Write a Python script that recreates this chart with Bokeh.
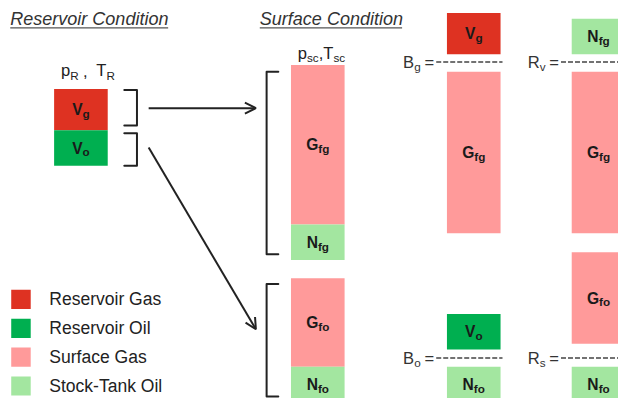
from bokeh.plotting import figure
from bokeh.models import Range1d, Arrow, OpenHead
from bokeh.core.properties import value
from bokeh.embed import file_html
from bokeh.resources import INLINE

FONT = "Liberation Sans"

# ---------------- data ----------------
phase_names = ["Reservoir Gas", "Reservoir Oil", "Surface Gas", "Stock-Tank Oil"]
phase_colors = ["#DE3222", "#00AF50", "#FF9A9A", "#A3E6A0"]

# volume blocks (diagram units = reference pixels, y grows downwards)
block_column = [0, 0, 1, 1, 1, 1, 2, 2, 2, 2, 3, 3, 3, 3]
block_phase = [0, 1, 2, 3, 2, 3, 0, 2, 1, 3, 3, 2, 2, 3]
block_top = [92, 135, 67, 233, 289, 381, 13, 74, 326, 381, 19, 74, 262, 381]
block_bottom = [135, 172, 233, 270, 381, 418, 56, 242, 363, 418, 56, 242, 357, 418]
block_symbol = ["V", "V", "G", "N", "G", "N", "V", "G", "V", "N", "N", "G", "G", "N"]
block_sub = ["g", "o", "fg", "fg", "fo", "fo", "g", "fg", "o", "fo", "fg", "fg", "fo", "fo"]

# ratio definitions  (B_g, R_v, B_o, R_s)
ratio_symbol = ["B", "R", "B", "R"]
ratio_sub = ["g", "v", "o", "s"]
ratio_column = [2, 3, 2, 3]
ratio_level = [64, 64, 372, 372]

titles = ["Reservoir Condition", "Surface Condition"]

# ---------------- layout ----------------
W, H = 618, 398
REF_W, REF_H = 634, 414
S = W / REF_W  # pixel scale from reference to this figure

column_left = [55, 298, 458, 586]
column_width = 55
title_x = [10, 266]
title_end = [172, 412]

BOLD = {"V": .667, "G": .778, "N": .722, "f": .333, "g": .611, "o": .611}
REG = {"B": .667, "R": .722, "p": .556, "T": .611, "g": .556, "o": .556, "v": .5,
       "s": .5, "c": .5, ",": .278, " ": .278, "=": .584}


def w(s, size, table):
    return sum(table[ch] for ch in s) * size


def fs(size):
    return f"{size * S:.2f}px"


p = figure(width=W, height=H, x_range=Range1d(0, REF_W), y_range=Range1d(REF_H, 0),
           output_backend="svg", toolbar_location=None,
           x_axis_location=None, y_axis_location=None, min_border=0)
p.outline_line_color = None
p.xgrid.visible = False
p.ygrid.visible = False
p.background_fill_color = "white"

# blocks
lefts = [column_left[c] for c in block_column]
rights = [column_left[c] + column_width for c in block_column]
cols = [phase_colors[k] for k in block_phase]
p.quad(left=lefts, right=rights, top=block_top, bottom=block_bottom,
       fill_color=cols, line_color=None)

# block labels
mx, my, sx, sy = [], [], [], []
for c, t, b, m, s in zip(block_column, block_top, block_bottom, block_symbol, block_sub):
    cx = column_left[c] + column_width / 2
    cy = (t + b) / 2
    mw = w(m, 16, BOLD)
    sw = w(s, 12, BOLD)
    x0 = cx - (mw + sw) / 2
    mx.append(x0); my.append(cy)
    sx.append(x0 + mw); sy.append(cy + 4)
p.text(x=mx, y=my, text=block_symbol, text_font=value(FONT), text_font_size=fs(16),
       text_font_style="bold", text_color="#1a1a1a", text_baseline="middle")
p.text(x=sx, y=sy, text=block_sub, text_font=value(FONT), text_font_size=fs(12),
       text_font_style="bold", text_color="#1a1a1a", text_baseline="middle")

# ratio labels and dashed fraction lines
rmx, rsx, rex, rys, rsy = [], [], [], [], []
dxs, dys = [], []
for m, s, c, lvl in zip(ratio_symbol, ratio_sub, ratio_column, ratio_level):
    x0 = column_left[c] - 45
    rmx.append(x0)
    rsx.append(x0 + w(m, 17, REG))
    rex.append(column_left[c] - 23)
    rys.append(lvl)
    rsy.append(lvl + 4.5)
    dxs.append([column_left[c] - 11, column_left[c] + column_width + 2])
    dys.append([lvl, lvl])
p.text(x=rmx, y=rys, text=ratio_symbol, text_font=value(FONT), text_font_size=fs(17),
       text_color="#333333", text_baseline="middle")
p.text(x=rsx, y=rsy, text=ratio_sub, text_font=value(FONT), text_font_size=fs(12),
       text_color="#333333", text_baseline="middle")
p.text(x=rex, y=rys, text=["="] * 4, text_font=value(FONT), text_font_size=fs(17),
       text_color="#333333", text_baseline="middle")
p.multi_line(xs=dxs, ys=dys, line_color="#444444", line_width=1.5, line_dash="5 2")

# condition labels p_R , T_R  and  p_sc,T_sc
cond_pieces = [["p", "R", ",", "T", "R"], ["p", "sc", ",", "T", "sc"]]
cond_gap = [[0, 0, 4.5, 9, 0], [0, 0, 0, 0, 0]]  # extra spacing before each piece
cond_start = [62, 305]
cond_mid = [73, 55]
for pieces, gaps, x0, mid in zip(cond_pieces, cond_gap, cond_start, cond_mid):
    x = x0
    for i, (piece, g) in enumerate(zip(pieces, gaps)):
        x += g
        is_sub = i in (1, 4)
        size = 12 if is_sub else 17
        p.text(x=[x], y=[mid + (4.5 if is_sub else 0)], text=[piece],
               text_font=value(FONT), text_font_size=fs(size),
               text_color="#222222", text_baseline="middle")
        x += w(piece, size, REG)

# titles
p.text(x=title_x, y=[19.5, 19.5], text=titles, text_font=value(FONT),
       text_font_size=fs(18.5), text_font_style="italic", text_color="#333333",
       text_baseline="middle")
p.multi_line(xs=[[a, b] for a, b in zip(title_x, title_end)], ys=[[28.5, 28.5]] * 2,
             line_color="#555555", line_width=1.3)

# brackets
bl = dict(line_color="#222222", line_width=2, line_join="round", line_cap="round")
p.multi_line(xs=[[127, 140, 140, 127], [127, 140, 140, 127],
                 [285, 273, 273, 285], [285, 273, 273, 285]],
             ys=[[93, 93, 130, 130], [138, 138, 172, 172],
                 [74, 74, 264, 264], [295, 295, 412, 412]], **bl)

# arrows
for xs_, ys_, xe, ye in [(152, 112, 262, 112), (152, 153, 262, 342)]:
    p.add_layout(Arrow(x_start=xs_, y_start=ys_, x_end=xe, y_end=ye,
                       line_color="#222222", line_width=2,
                       end=OpenHead(size=11, line_width=2, line_color="#222222")))

# legend
leg_top = [301 + 30 * i for i in range(4)]
p.quad(left=[11] * 4, right=[31] * 4, top=leg_top, bottom=[t + 20 for t in leg_top],
       fill_color=phase_colors, line_color=None)
p.text(x=[50] * 4, y=[t + 9.5 for t in leg_top], text=phase_names, text_font=value(FONT),
       text_font_size=fs(18), text_color="#222222", text_baseline="middle")

open("out.html", "w").write(file_html(p, INLINE))
